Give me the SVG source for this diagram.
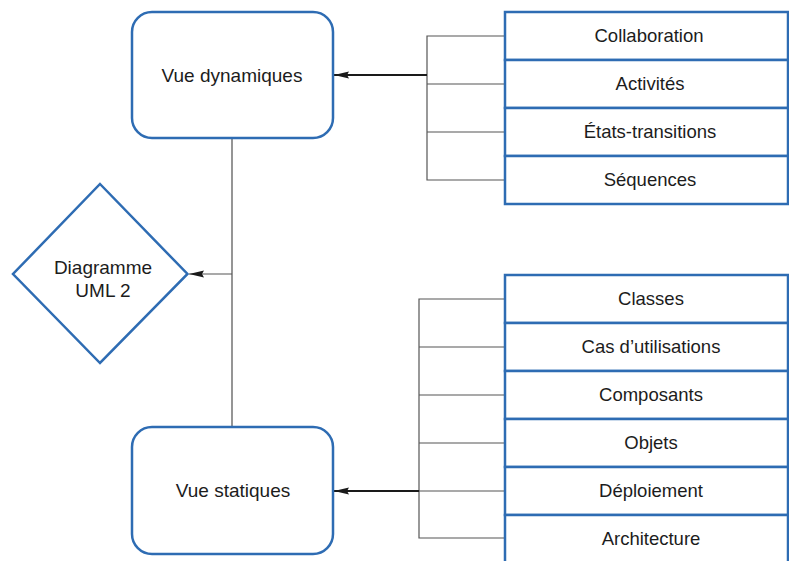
<svg xmlns="http://www.w3.org/2000/svg" width="789" height="561" viewBox="0 0 789 561">
  <defs>
    <style>
      .node { fill: #ffffff; stroke: #2e6cb3; stroke-width: 2.5; }
      .label { font-family: "Liberation Sans", Arial, sans-serif; font-size: 19px; fill: #1c1c1c; text-anchor: middle; }
      .item { font-family: "Liberation Sans", Arial, sans-serif; font-size: 18.5px; fill: #1c1c1c; text-anchor: middle; }
      .thin { fill: none; stroke: #555555; stroke-width: 1.2; }
      .trunk { fill: none; stroke: #8a8a8a; stroke-width: 1.8; }
      .main { fill: none; stroke: #1a1a1a; stroke-width: 2.2; }
    </style>
    <marker id="head" viewBox="0 0 16 8" refX="15" refY="4" markerWidth="16" markerHeight="8" markerUnits="userSpaceOnUse" orient="auto">
      <path d="M0,0.5 L15,4 L0,7.5 L2,4 z" fill="#1a1a1a"/>
    </marker>
  </defs>

  <rect width="789" height="561" fill="#ffffff"/>

  <!-- connectors -->
  <g id="connectors">
    <!-- dynamic branch bracket -->
    <path class="thin" d="M505,36 H427 V180 H505 M427,84 H505 M427,132 H505"/>
    <line class="main" x1="427" y1="75" x2="334" y2="75" marker-end="url(#head)"/>
    <!-- static branch bracket -->
    <path class="thin" d="M505,299 H419 V538 H505 M419,347 H505 M419,395 H505 M419,443 H505 M419,491 H505"/>
    <line class="main" x1="419" y1="491" x2="334" y2="491" marker-end="url(#head)"/>
    <!-- trunk between the two views -->
    <line class="trunk" x1="232" y1="138" x2="232" y2="426"/>
    <line class="thin" x1="232" y1="274" x2="189" y2="274" marker-end="url(#head)"/>
  </g>

  <!-- root -->
  <g id="uml2">
    <polygon class="node" points="100,184 187.5,274 100,363 13,274"/>
    <text class="label" x="103" y="274">Diagramme</text>
    <text class="label" x="103" y="297">UML 2</text>
  </g>

  <!-- views -->
  <g id="vue-dynamiques">
    <rect class="node" x="132" y="12" width="201" height="126" rx="20" ry="20"/>
    <text class="label" x="232" y="82">Vue dynamiques</text>
  </g>
  <g id="vue-statiques">
    <rect class="node" x="132" y="427" width="201" height="127" rx="20" ry="20"/>
    <text class="label" x="233" y="497">Vue statiques</text>
  </g>

  <!-- dynamic diagrams -->
  <g id="collaboration">
    <rect class="node" x="505" y="12" width="283" height="48"/>
    <text class="item" x="649" y="42">Collaboration</text>
  </g>
  <g id="activites">
    <rect class="node" x="505" y="60" width="283" height="48"/>
    <text class="item" x="650" y="90">Activités</text>
  </g>
  <g id="etats-transitions">
    <rect class="node" x="505" y="108" width="283" height="48"/>
    <text class="item" x="650" y="138">États-transitions</text>
  </g>
  <g id="sequences">
    <rect class="node" x="505" y="156" width="283" height="48"/>
    <text class="item" x="650" y="186">Séquences</text>
  </g>

  <!-- static diagrams -->
  <g id="classes">
    <rect class="node" x="505" y="275" width="283" height="48"/>
    <text class="item" x="651" y="305">Classes</text>
  </g>
  <g id="cas-utilisations">
    <rect class="node" x="505" y="323" width="283" height="48"/>
    <text class="item" x="651" y="353">Cas d’utilisations</text>
  </g>
  <g id="composants">
    <rect class="node" x="505" y="371" width="283" height="48"/>
    <text class="item" x="651" y="401">Composants</text>
  </g>
  <g id="objets">
    <rect class="node" x="505" y="419" width="283" height="48"/>
    <text class="item" x="651" y="449">Objets</text>
  </g>
  <g id="deploiement">
    <rect class="node" x="505" y="467" width="283" height="48"/>
    <text class="item" x="651" y="497">Déploiement</text>
  </g>
  <g id="architecture">
    <rect class="node" x="505" y="515" width="283" height="48"/>
    <text class="item" x="651" y="545">Architecture</text>
  </g>
</svg>
